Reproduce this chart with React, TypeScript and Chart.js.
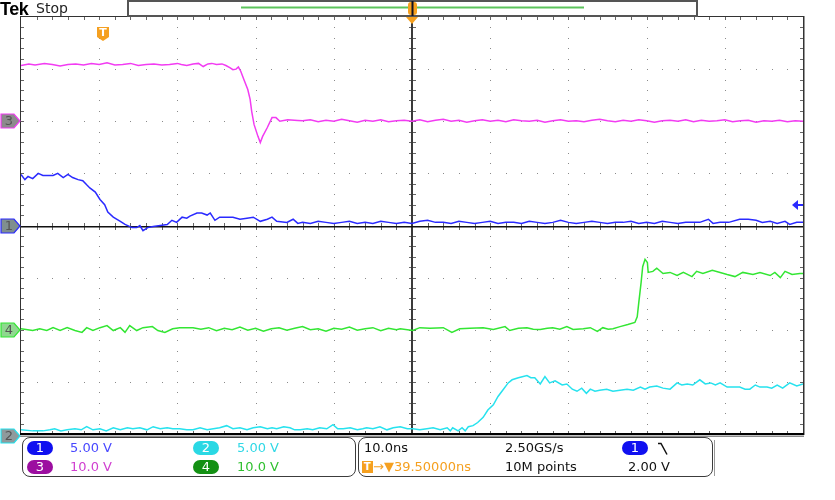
import React, { useEffect, useRef } from 'react';
import { Chart, registerables } from 'chart.js';

Chart.register(...registerables);

// time axis: 10.0 ns/div, 10 divisions, centred on the expansion point
const TIME_MIN = -50;
const TIME_MAX = 50;
const TRIGGER_TIME = -39.5; // ns
const TRIGGER_LEVEL = 2.0; // V on channel 1

const channelLabels = ['1', '2', '3', '4'];
const voltsPerDiv = [5, 5, 10, 10];
const offsetDiv = [0, -4, 2, -2];
const traceColors = ['#2a2aff', '#26e2ee', '#f23cf2', '#33e633'];

// [time ns, volts]
const ch1: number[][] = [
  [-50, 4.9], [-49.5, 4.4], [-49.1, 4.7], [-48.5, 4.5], [-47.8, 5.0], [-47.2, 4.8], [-46.5, 4.8],
  [-45.9, 4.8], [-45.3, 5.0], [-44.6, 4.6], [-44.0, 4.9], [-43.4, 4.6], [-42.7, 4.4], [-42.1, 4.3],
  [-41.6, 3.9], [-41.2, 3.6], [-40.5, 3.2], [-39.9, 2.5], [-39.3, 2.0], [-38.9, 1.3], [-38.2, 0.8],
  [-37.3, 0.4], [-36.7, 0.1], [-35.8, -0.2], [-35.2, -0.2], [-34.8, 0.0], [-34.4, -0.5], [-33.8, -0.2],
  [-33.1, -0.1], [-32.2, 0.0], [-31.3, 0.1], [-30.7, 0.5], [-30.1, 0.3], [-29.4, 0.8], [-28.8, 0.7],
  [-28.4, 0.9], [-27.5, 1.2], [-26.9, 1.2], [-26.2, 1.0], [-25.8, 1.2], [-25.2, 0.5], [-24.6, 0.8],
  [-23.8, 0.8], [-22.9, 0.8], [-22.0, 0.6], [-21.1, 0.7], [-20.3, 0.8], [-19.4, 0.4], [-18.5, 0.6],
  [-17.9, 0.8], [-17.3, 0.4], [-16.0, 0.3], [-15.2, 0.6], [-14.6, 0.2], [-14, 0.3], [-13, 0.2],
  [-12, 0.4], [-11, 0.3], [-10, 0.2], [-9, 0.3], [-8, 0.4], [-7, 0.2], [-6, 0.3], [-5, 0.2],
  [-4, 0.4], [-3, 0.3], [-2, 0.2], [-1, 0.3], [0, 0.2], [1, 0.4], [2, 0.5], [3, 0.3], [4, 0.3],
  [5, 0.2], [6, 0.4], [7, 0.3], [8, 0.2], [9, 0.3], [10, 0.4], [11, 0.2], [12, 0.3], [13, 0.3],
  [14, 0.2], [15, 0.4], [16, 0.3], [17, 0.2], [18, 0.3], [19, 0.5], [20, 0.3], [21, 0.2], [22, 0.3],
  [23, 0.4], [24, 0.3], [25, 0.2], [26, 0.3], [27, 0.3], [28, 0.4], [29, 0.2], [30, 0.3], [31, 0.2],
  [32, 0.4], [33, 0.3], [34, 0.2], [35, 0.3], [36, 0.3], [36.8, 0.3], [37.9, 0.6], [38.5, 0.2],
  [39.4, 0.3], [40.5, 0.3], [41.9, 0.6], [43.0, 0.6], [44.0, 0.5], [44.8, 0.3], [45.8, 0.4],
  [46.7, 0.2], [47.7, 0.4], [48.3, 0.1], [49.2, 0.3], [50, 0.3],
];

const ch2: number[][] = [
  [-50, 0.4], [-48.5, 0.3], [-47.2, 0.3], [-46.3, 0.4], [-45.7, 0.5], [-44.9, 0.3], [-44.1, 0.4],
  [-43.1, 0.5], [-42.3, 0.4], [-41.6, 0.7], [-40.8, 0.4], [-39.9, 0.5], [-39.1, 0.3], [-38.2, 0.6],
  [-37.3, 0.4], [-36.4, 0.6], [-35.7, 0.5], [-34.8, 0.6], [-33.9, 0.4], [-33.1, 0.7], [-32.2, 0.5],
  [-31.3, 0.6], [-30.6, 0.5], [-29.7, 0.5], [-28.8, 0.4], [-28.0, 0.4], [-27.1, 0.6], [-26.2, 0.4],
  [-25.4, 0.5], [-24.6, 0.6], [-23.7, 0.8], [-22.9, 0.5], [-22.0, 0.6], [-21.1, 0.4], [-20.3, 0.6],
  [-19.4, 0.7], [-18.5, 0.5], [-17.9, 0.6], [-17.3, 0.5], [-16.4, 0.7], [-15.6, 0.6], [-15.0, 0.4],
  [-14.3, 0.4], [-13.4, 0.5], [-12.7, 0.4], [-11.8, 0.6], [-10.9, 0.5], [-10.1, 0.9], [-9.5, 0.5],
  [-8.8, 0.5], [-7.9, 0.6], [-7.0, 0.4], [-6.3, 0.5], [-5.8, 0.6], [-5.0, 0.5], [-4.1, 0.7],
  [-3.2, 0.4], [-2.4, 0.6], [-1.5, 0.7], [-0.6, 0.5], [0.1, 0.5], [1.0, 0.4], [1.9, 0.5], [2.7, 0.6],
  [3.6, 0.4], [4.5, 0.6], [4.9, 0.3], [5.2, 0.6], [5.9, 0.3], [6.4, 0.6], [6.8, 0.3], [7.2, 0.7],
  [7.8, 0.8], [8.4, 1.1], [9.1, 1.6], [9.7, 2.3], [10.4, 2.8], [11.0, 3.6], [11.6, 4.2], [12.3, 4.9],
  [12.8, 5.2], [13.6, 5.4], [14.1, 5.5], [14.7, 5.6], [15.2, 5.4], [15.7, 5.4], [16.4, 4.8],
  [17.0, 5.5], [17.6, 4.9], [18.3, 5.1], [19.2, 4.7], [19.8, 4.8], [20.5, 4.3], [21.1, 4.1],
  [21.7, 4.4], [22.3, 3.9], [22.8, 4.3], [23.4, 4.1], [24.0, 4.2], [24.9, 4.3], [25.7, 4.1],
  [26.6, 4.2], [27.5, 4.3], [28.3, 4.2], [29.2, 4.5], [29.8, 4.3], [30.4, 4.5], [31.3, 4.6],
  [32.1, 4.4], [33.0, 4.3], [33.9, 4.9], [34.5, 4.7], [35.2, 4.8], [35.9, 4.7], [36.8, 5.2],
  [37.5, 4.8], [38.2, 4.9], [38.8, 4.7], [39.4, 4.9], [40.3, 4.5], [41.0, 4.5], [41.9, 4.5],
  [42.6, 4.3], [43.2, 4.3], [43.9, 4.7], [44.5, 4.5], [45.4, 4.5], [46.0, 4.4], [46.7, 4.7],
  [47.4, 4.4], [48.3, 4.9], [49.2, 4.6], [50, 4.8],
];

const ch3: number[][] = [
  [-50, 10.7], [-49, 11.0], [-48.2, 10.8], [-47, 11.1], [-46, 10.9], [-45, 10.6], [-44, 10.9],
  [-43, 11.0], [-42, 10.8], [-41, 11.1], [-40, 10.9], [-39, 11.2], [-38, 10.8], [-37, 10.9],
  [-36, 11.1], [-35, 10.7], [-34, 10.9], [-33, 11.0], [-32, 10.8], [-31, 10.9], [-30, 11.1],
  [-29.5, 10.9], [-28.8, 10.7], [-28, 11.0], [-27.3, 11.1], [-26.7, 10.5], [-26.1, 11.0],
  [-25.6, 11.1], [-25.0, 10.9], [-24.3, 11.0], [-23.8, 10.7], [-23.3, 10.3], [-22.9, 9.9],
  [-22.5, 10.0], [-22.2, 10.4], [-21.9, 9.6], [-21.5, 8.0], [-21.0, 6.1], [-20.7, 4.2], [-20.5, 1.9],
  [-20.2, -0.6], [-19.7, -2.9], [-19.4, -4.1], [-19.1, -2.9], [-18.5, -1.2], [-17.9, 0.7],
  [-17.4, 0.7], [-16.9, 0.0], [-15.9, 0.3], [-14.6, 0.15], [-14, 0.1], [-13, 0.3], [-12, -0.1],
  [-11, 0.2], [-10, 0.0], [-9, 0.4], [-8, 0.1], [-7, -0.2], [-6, 0.2], [-5, 0.0], [-4, 0.3],
  [-3, -0.1], [-2, 0.1], [-1, 0.2], [0, 0.0], [1, 0.3], [2, -0.1], [3, 0.2], [4, 0.4], [5, 0.0],
  [6, 0.2], [7, -0.2], [8, 0.1], [9, 0.3], [10, 0.0], [11, 0.2], [12, -0.1], [13, 0.3], [14, 0.1],
  [15, 0.0], [16, 0.2], [17, -0.2], [18, 0.1], [19, 0.3], [20, 0.0], [21, 0.1], [22, -0.1], [23, 0.2],
  [24, 0.4], [25, 0.1], [26, -0.1], [27, 0.2], [28, 0.0], [29, 0.3], [30, 0.1], [31, -0.2], [32, 0.1],
  [33, 0.2], [34, 0.0], [35, 0.3], [36, -0.1], [37, 0.2], [38, 0.0], [39, 0.1], [40, 0.3], [41, -0.1],
  [42, 0.1], [43, 0.2], [44, -0.2], [45, 0.1], [46, 0.0], [47, 0.2], [48, -0.1], [49, 0.1], [50, 0.0],
];

const ch4: number[][] = [
  [-50, 0.2], [-48.5, -0.15], [-47.6, 0.2], [-46.7, -0.15], [-45.9, 0.4], [-45.0, -0.15], [-44.1, 0.4],
  [-43.1, -0.15], [-42.2, -0.5], [-41.6, 0.4], [-40.8, -0.15], [-39.9, 0.4], [-39.0, 0.8],
  [-38.2, -0.15], [-37.3, 0.4], [-36.7, -0.5], [-36.1, 0.8], [-35.2, -0.15], [-34.4, 0.4],
  [-33.2, 0.6], [-32.5, -0.15], [-31.6, -0.5], [-30.6, 0.2], [-29.7, 0.4], [-28.0, 0.4], [-27, 0.1],
  [-26, 0.4], [-25, -0.2], [-24, 0.3], [-23, 0.0], [-22, 0.5], [-21, -0.1], [-20, 0.3], [-19, -0.3],
  [-18, 0.2], [-17, 0.4], [-16, -0.1], [-15, 0.3], [-14, 0.6], [-13, 0.0], [-12, 0.2], [-11, -0.3],
  [-10, 0.3], [-9, 0.1], [-8, 0.5], [-7, -0.1], [-6, 0.2], [-5, 0.4], [-4, -0.2], [-3, 0.3], [-2, 0.0],
  [-1.5, 0.2], [0.1, -0.15], [1.0, 0.4], [2.3, 0.3], [4.0, 0.4], [5.1, -0.5], [6.1, 0.2], [7.4, 0.3],
  [9.1, 0.4], [10.4, 0.05], [11.9, 0.6], [12.5, -0.15], [13.6, 0.3], [14.7, 0.4], [15.5, 0.1],
  [16.4, 0.05], [17.3, 0.3], [18.0, 0.4], [18.9, 0.1], [19.8, 0.6], [20.6, 0.05], [21.9, 0.2],
  [22.8, 0.4], [23.7, -0.3], [24.4, 0.4], [25.1, 0.1], [25.7, 0.2], [26.6, 0.6], [27.6, 1.0],
  [28.5, 1.4], [28.8, 2.5], [29.0, 5.2], [29.3, 9.1], [29.5, 12.1], [29.8, 13.5], [30.1, 12.9],
  [30.2, 11.0], [30.8, 11.2], [31.3, 11.8], [32.1, 10.8], [33.0, 11.0], [33.9, 10.4], [34.7, 11.0],
  [35.8, 10.2], [36.4, 11.2], [37.2, 10.8], [38.4, 11.4], [39.4, 11.0], [40.3, 10.6], [41.3, 10.2],
  [42.3, 11.0], [43.6, 10.6], [44.5, 11.0], [45.8, 10.4], [46.4, 11.0], [47.1, 10.0], [47.7, 11.2],
  [48.6, 10.6], [49.6, 10.8], [50, 10.8],
];

const traces = [ch1, ch2, ch3, ch4];
const drawOrder = [2, 0, 3, 1];

const markerFill = ['#7f8f8f', '#8f9a9c', '#8c8a8c', '#8fd88f'];
const pillColors = ['#1010f0', '#2ad8e4', '#9c0ea0', '#139013'];
const scaleTextColors = ['#4848ff', '#30d8e6', '#d040d0', '#30c030'];
const scaleTexts = ['5.00 V', '5.00 V', '10.0 V', '10.0 V'];
const horizontalTexts = ['10.0ns', '2.50GS/s', '10M points', '2.00 V'];
const triggerDelayText = '39.50000ns';

const scopePlugin = {
  id: 'scope',
  beforeDatasetsDraw(chart: any) {
    const { ctx, chartArea: a, scales } = chart;
    const xs = scales.x;
    const ys = scales.y;
    const px = (t: number) => Math.round(xs.getPixelForValue(t));
    const py = (d: number) => Math.round(ys.getPixelForValue(d));
    ctx.save();
    ctx.fillStyle = '#8a8a8a';
    for (let i = 1; i < 10; i++) {
      if (i === 5) continue;
      const gx = px(TIME_MIN + i * 10);
      for (let j = 1; j < 40; j++) ctx.fillRect(gx, py(-4 + j * 0.2), 1, 1);
    }
    for (let j = 1; j < 8; j++) {
      if (j === 4) continue;
      const gy = py(-4 + j);
      for (let i = 1; i < 50; i++) ctx.fillRect(px(TIME_MIN + i * 2), gy, 1, 1);
    }
    const cx = px(0);
    const cy = py(0);
    ctx.fillStyle = '#666';
    for (let j = 1; j < 40; j++) {
      const yy = py(-4 + j * 0.2);
      ctx.fillRect(cx - 3, yy, 7, 1);
      ctx.fillRect(a.left, yy, 3, 1);
      ctx.fillRect(a.right - 3, yy, 3, 1);
    }
    for (let i = 1; i < 50; i++) {
      const xx = px(TIME_MIN + i * 2);
      ctx.fillRect(xx, cy - 3, 1, 7);
      ctx.fillRect(xx, a.top, 1, 3);
      ctx.fillRect(xx, a.bottom - 3, 1, 3);
    }
    // centre lines
    ctx.fillStyle = '#3a3a3a';
    ctx.fillRect(cx - 1, a.top, 2, a.bottom - a.top);
    ctx.fillStyle = '#111';
    ctx.fillRect(a.left, cy, a.right - a.left, 1.5);
    // border
    ctx.fillStyle = '#333';
    ctx.fillRect(a.left - 1, a.top, 1, a.bottom - a.top);
    ctx.fillRect(a.left - 1, a.top - 1, a.right - a.left + 2, 1);
    ctx.fillRect(a.right, a.top - 1, 1.5, a.bottom - a.top + 2);
    ctx.fillStyle = '#000';
    ctx.fillRect(a.left - 1, a.bottom - 1, a.right - a.left + 2, 2);
    ctx.fillStyle = '#8a8a8a';
    ctx.fillRect(a.left - 1, a.bottom + 1.5, a.right - a.left + 2, 1.5);
    ctx.restore();
  },
  afterDraw(chart: any) {
    const { ctx, chartArea: a, scales } = chart;
    const xs = scales.x;
    const ys = scales.y;
    const cx = Math.round(xs.getPixelForValue(0));
    ctx.save();
    // record view box
    ctx.strokeStyle = '#555';
    ctx.lineWidth = 2;
    ctx.strokeRect(128, 1, 569, 15);
    ctx.strokeStyle = '#5cc45c';
    ctx.lineWidth = 2;
    ctx.beginPath();
    ctx.moveTo(241, 7.5);
    ctx.lineTo(584, 7.5);
    ctx.stroke();
    // record trigger marker
    ctx.fillStyle = '#f5a020';
    ctx.beginPath();
    ctx.roundRect(cx - 4, 2, 9, 13, 3);
    ctx.fill();
    ctx.fillStyle = '#112';
    ctx.fillRect(cx - 0.5, 1, 2, 15);
    // expansion point arrow
    ctx.fillStyle = '#f5a020';
    ctx.beginPath();
    ctx.moveTo(cx - 6, a.top);
    ctx.lineTo(cx + 6, a.top);
    ctx.lineTo(cx, a.top + 7);
    ctx.closePath();
    ctx.fill();
    // trigger position badge
    const tx = Math.round(xs.getPixelForValue(TRIGGER_TIME));
    ctx.fillStyle = '#f5a020';
    ctx.beginPath();
    ctx.moveTo(tx - 6, a.top + 10);
    ctx.lineTo(tx + 6, a.top + 10);
    ctx.lineTo(tx + 6, a.top + 20);
    ctx.lineTo(tx, a.top + 24);
    ctx.lineTo(tx - 6, a.top + 20);
    ctx.closePath();
    ctx.fill();
    ctx.fillStyle = '#fff';
    ctx.font = 'bold 11px "DejaVu Sans"';
    ctx.textAlign = 'center';
    ctx.textBaseline = 'middle';
    ctx.fillText('T', tx, a.top + 16);
    // trigger level arrow (channel 1)
    const ly = Math.round(ys.getPixelForValue(offsetDiv[0] + TRIGGER_LEVEL / voltsPerDiv[0]));
    ctx.fillStyle = traceColors[0];
    ctx.beginPath();
    ctx.moveTo(a.right - 11, ly);
    ctx.lineTo(a.right - 5, ly - 5);
    ctx.lineTo(a.right - 5, ly + 5);
    ctx.closePath();
    ctx.fill();
    ctx.fillRect(a.right - 6, ly - 1, 6, 2);
    // channel ground markers
    for (let c = 0; c < 4; c++) {
      const my = Math.round(ys.getPixelForValue(offsetDiv[c])) + (c === 1 ? 2 : 0);
      ctx.beginPath();
      ctx.moveTo(1, my - 7);
      ctx.lineTo(14, my - 7);
      ctx.lineTo(20, my);
      ctx.lineTo(14, my + 7);
      ctx.lineTo(1, my + 7);
      ctx.closePath();
      ctx.fillStyle = markerFill[c];
      ctx.fill();
      ctx.strokeStyle = traceColors[c];
      ctx.lineWidth = 1.2;
      ctx.stroke();
      ctx.fillStyle = '#555';
      ctx.font = '13px "DejaVu Sans"';
      ctx.textAlign = 'center';
      ctx.textBaseline = 'middle';
      ctx.fillText(channelLabels[c], 9, my + 1);
    }
    ctx.restore();
  },
};

const font = '"DejaVu Sans", sans-serif';

function Pill({ left, top, color, label }: { left: number; top: number; color: string; label: string }) {
  return (
    <div
      style={{
        position: 'absolute', left, top, width: 26, height: 14, borderRadius: 7, background: color,
        color: '#fff', fontFamily: font, fontSize: 13, lineHeight: '14px', textAlign: 'center',
      }}
    >
      {label}
    </div>
  );
}

function Txt({ left, top, color, children }: { left: number; top: number; color: string; children: any }) {
  return (
    <div
      style={{
        position: 'absolute', left, top, height: 16, lineHeight: '16px', fontFamily: font, fontSize: 13,
        color, whiteSpace: 'nowrap',
      }}
    >
      {children}
    </div>
  );
}

export default function App() {
  const canvasRef = useRef<HTMLCanvasElement | null>(null);

  useEffect(() => {
    const canvas = canvasRef.current;
    if (!canvas) return;
    const datasets = drawOrder.map((c) => ({
      label: 'CH' + channelLabels[c],
      data: traces[c].map(([t, v]) => ({ x: t, y: offsetDiv[c] + v / voltsPerDiv[c] })),
      borderColor: traceColors[c],
      borderWidth: 1.5,
      pointRadius: 0,
      tension: 0,
      fill: false,
    }));
    const chart = new Chart(canvas, {
      type: 'line',
      data: { datasets },
      options: {
        animation: false,
        responsive: false,
        devicePixelRatio: 1,
        layout: { padding: { left: 21, right: 32, top: 17, bottom: 66 } },
        plugins: { legend: { display: false }, tooltip: { enabled: false }, title: { display: false } },
        scales: {
          x: { type: 'linear', min: TIME_MIN, max: TIME_MAX, display: false },
          y: { type: 'linear', min: -4, max: 4, display: false },
        },
      },
      plugins: [scopePlugin],
    });
    return () => chart.destroy();
  }, []);

  const row1 = 440;
  const row2 = 459;

  return (
    <div style={{ position: 'fixed', left: 0, top: 0, width: 835, height: 500, background: '#fff', overflow: 'hidden' }}>
      <canvas ref={canvasRef} width={835} height={500} style={{ position: 'absolute', left: 0, top: 0 }} />
      <div style={{ position: 'absolute', left: 0, top: -1, fontFamily: '"Liberation Sans", sans-serif', fontWeight: 'bold', fontSize: 18, letterSpacing: -0.5, color: '#000' }}>
        Tek
      </div>
      <div style={{ position: 'absolute', left: 36, top: 0, fontFamily: font, fontSize: 14, color: '#222', lineHeight: '16px' }}>
        Stop
      </div>

      <div style={{ position: 'absolute', left: 22, top: 437, width: 334, height: 40, border: '1.5px solid #3c3c3c', borderRadius: 8, boxSizing: 'border-box' }} />
      <div style={{ position: 'absolute', left: 358, top: 437, width: 355, height: 40, border: '1.5px solid #3c3c3c', borderRadius: 8, boxSizing: 'border-box' }} />
      <div style={{ position: 'absolute', left: 714, top: 440, width: 1, height: 36, background: '#999' }} />

      <Pill left={27} top={row1 + 1} color={pillColors[0]} label={channelLabels[0]} />
      <Txt left={70} top={row1} color={scaleTextColors[0]}>{scaleTexts[0]}</Txt>
      <Pill left={193} top={row1 + 1} color={pillColors[1]} label={channelLabels[1]} />
      <Txt left={237} top={row1} color={scaleTextColors[1]}>{scaleTexts[1]}</Txt>
      <Pill left={27} top={row2 + 1} color={pillColors[2]} label={channelLabels[2]} />
      <Txt left={70} top={row2} color={scaleTextColors[2]}>{scaleTexts[2]}</Txt>
      <Pill left={193} top={row2 + 1} color={pillColors[3]} label={channelLabels[3]} />
      <Txt left={237} top={row2} color={scaleTextColors[3]}>{scaleTexts[3]}</Txt>

      <Txt left={364} top={row1} color="#111">{horizontalTexts[0]}</Txt>
      <Txt left={505} top={row1} color="#111">{horizontalTexts[1]}</Txt>
      <Pill left={622} top={row1 + 1} color={pillColors[0]} label={channelLabels[0]} />
      <svg style={{ position: 'absolute', left: 657, top: row1 + 2 }} width={13} height={14}>
        <polyline points="1,1.5 4,1.5 10,12.5" fill="none" stroke="#111" strokeWidth={1.5} />
      </svg>

      <div style={{ position: 'absolute', left: 362, top: row2 + 2, width: 11, height: 12, background: '#f5a020', color: '#fff', fontFamily: font, fontWeight: 'bold', fontSize: 10, lineHeight: '12px', textAlign: 'center' }}>
        T
      </div>
      <Txt left={373} top={row2} color="#f5a020">{'\u2192\u25BC' + triggerDelayText}</Txt>
      <Txt left={505} top={row2} color="#111">{horizontalTexts[2]}</Txt>
      <Txt left={628} top={row2} color="#111">{horizontalTexts[3]}</Txt>
    </div>
  );
}
